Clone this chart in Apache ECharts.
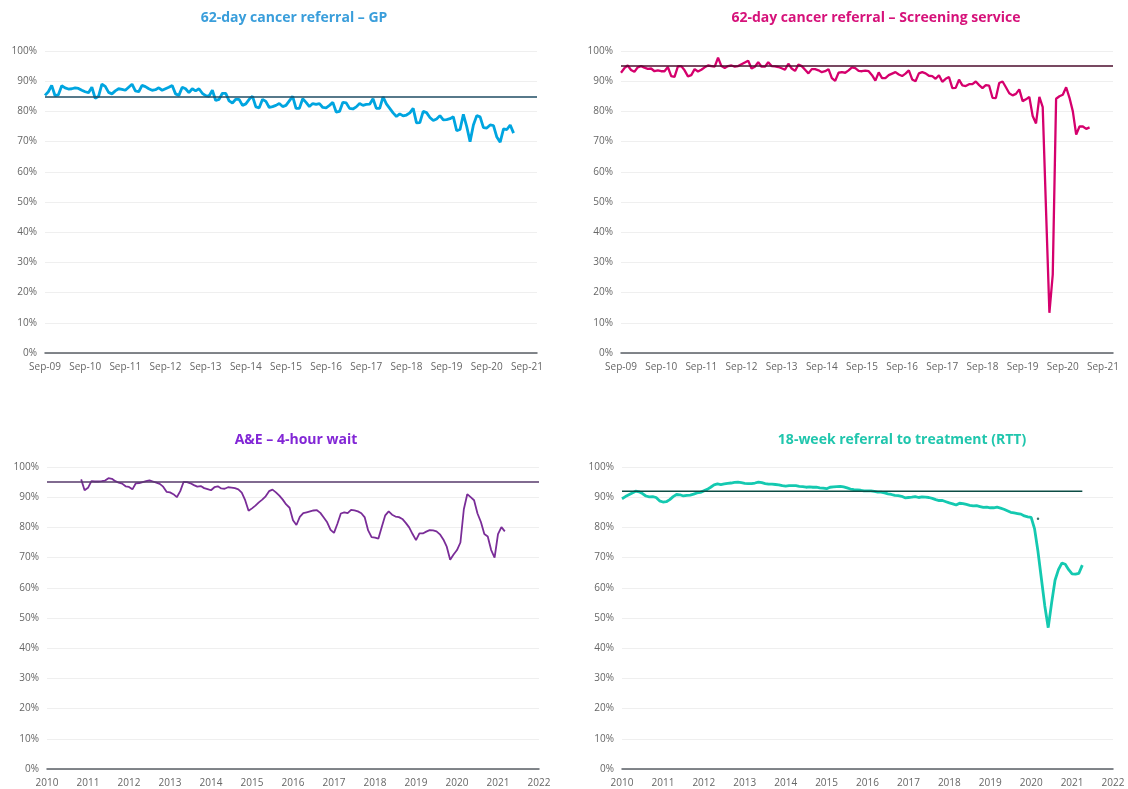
<!DOCTYPE html>
<html>
<head>
<meta charset="utf-8">
<script src="https://cdn.jsdelivr.net/npm/echarts@6/dist/echarts.min.js"></script>
<style>
  html, body { margin: 0; padding: 0; background: #fff; }
  #main { width: 1128px; height: 789px; }
</style>
</head>
<body>
<div id="main"></div>
<script>
// tick labels
var monthTicks = ['Sep-09','Sep-10','Sep-11','Sep-12','Sep-13','Sep-14','Sep-15','Sep-16','Sep-17','Sep-18','Sep-19','Sep-20','Sep-21'];
var yearTicks = ['2010','2011','2012','2013','2014','2015','2016','2017','2018','2019','2020','2021','2022'];

// titles and targets
var titles = ['62-day cancer referral – GP', '62-day cancer referral – Screening service', 'A&E – 4-hour wait', '18-week referral to treatment (RTT)'];
var targets = [85, 95, 95, 92];

// 62-day GP, monthly from Sep-09
var gp = [85.3,86.5,88.6,85.2,85.5,88.5,87.8,87.4,87.5,87.8,87.6,87,86.5,86.2,88,84.3,85,89,88.3,86.3,
  85.8,86.8,87.5,87.3,87,88,89,86.8,86.5,88.6,88.2,87.5,87,87.2,87.8,87,87.5,88,88.6,85.8,
  85.3,88,87.5,86.2,87.5,86.8,87.5,86,85.2,85,87,83.6,84,86,86,83.5,82.8,84,84,82,
  82.5,84,85,81.5,81.2,84,83.3,81.3,81.6,82,82.6,81.6,82,83.5,85,81,81,84.2,83,81.6,
  82.6,82.3,82.6,81.3,81.2,82,83,79.8,80,83,82.8,81,80.8,81.5,82.6,82,82.3,82.4,84.2,81,
  81,84.8,82.5,81,79.5,78.3,79.2,78.5,78.8,79.5,81,76.2,76.3,80,79.6,78,77,77.5,78.6,77.2,
  77.3,77.6,78.2,73.6,74,79,75,70,75.5,78.6,78.2,74.6,74.5,75.5,75.3,71.5,69.8,74.2,74,75.5,72.8];

// 62-day screening, monthly from Sep-09
var screening = [92.8,94.3,95.2,93.7,93.1,94.6,95,94.5,94.1,94.2,93.3,93.6,93.3,93.3,94.7,91.7,91.4,94.9,95,93.6,
  91.6,92,94,93.2,93.8,94.6,95.2,95,94.8,97.8,95,94.4,95,95.2,94.8,95,95.6,96.2,96.8,94.2,
  94.8,96.3,94.8,94.8,96.3,95,94.9,94.7,94.3,93.8,95.8,94.2,93.4,95.5,95,93.8,92.6,94,94,93.6,
  93,93.3,94,91,90.1,92.8,93,92.8,93.6,94.6,94.3,93.4,93.3,93.5,93.3,92,90.2,92.9,91,91,
  92,92.5,93,92.2,91.7,92.5,93.6,90.6,90,92.6,93,92.6,91.8,91.7,90.8,92,89.8,90.8,91.4,87.7,
  87.8,90.5,88.6,88.4,89,89,89.9,88.7,87.7,88.7,88.5,84.5,84.4,89.4,89.9,88,86,85.3,85.8,87.3,
  83.4,84,84.8,78.5,76,84.8,81.4,47,13.3,26,84.2,85,85.5,88,84.5,80,72.3,75,75,74.2,74.7];

// A&E 4-hour, monthly from Nov-10
var aeStart = 10;
var ae = [95.9,92.3,93.1,95.3,95.2,95.2,95.3,95.5,96.3,96.1,95.3,94.8,94.5,93.6,93.4,92.6,94.6,94.7,95,95.3,
  95.6,95.2,94.8,94.4,93.5,91.8,91.6,91,90,92,95.1,95,94.6,94,93.5,93.7,93,92.7,92.3,93.3,
  93.6,92.9,92.8,93.3,93.2,93,92.6,91.5,89,85.5,86.3,87.2,88.3,89.2,90.3,92,92.5,91.6,90.5,89.2,
  87.6,86.5,82.4,80.8,83.5,84.7,85,85.3,85.6,85.7,84.8,83.3,81.7,79.2,78.2,81.2,84.6,85,84.7,85.8,
  85.6,85.3,84.7,83.3,79,76.8,76.6,76.3,80.2,84,85.3,84.2,83.6,83.4,82.8,81.5,80,77.8,75.8,78,
  78,78.6,79.1,79,78.7,77.7,76,73.6,69.3,71,72.5,75,86,91,90,89,84.6,81.8,77.8,77,
  72.5,70,77.8,80.1,78.7];

// RTT 18-week, monthly from Jan-10
var rtt = [89.5,90.2,90.8,91.4,92,91.8,91.2,90.4,90.1,90.2,89.9,88.8,88.4,88.5,89.2,90.2,90.9,90.8,90.4,90.6,
  90.7,91,91.4,91.6,92.1,92.6,93.3,94.1,94.4,94.2,94.4,94.6,94.7,94.9,95,94.8,94.6,94.5,94.5,94.7,
  95,94.8,94.5,94.3,94.3,94.2,94.1,93.8,93.7,93.8,93.8,93.8,93.6,93.5,93.3,93.4,93.3,93.3,93.1,93,
  92.8,93.3,93.4,93.5,93.6,93.4,93.1,92.7,92.5,92.4,92.3,92.1,92.1,92.1,91.9,91.7,91.7,91.4,91.1,90.9,
  90.6,90.5,90.3,89.8,89.9,90,90.2,89.9,90.1,90,89.9,89.6,89.2,88.9,88.9,88.5,88.1,87.8,87.4,88,
  87.9,87.6,87.3,87.1,87.2,86.9,86.6,86.7,86.5,86.5,86.7,86.4,86,85.5,85,84.8,84.6,84.4,83.8,83.5,
  83.3,79.5,72,63,54,46.8,55,62.5,66,68.2,67.8,66,64.6,64.5,64.8,67.5];
var rttStray = [[122, 82.9]];

function pairs(arr, start) {
  return arr.map(function (v, i) { return [start + i, v]; });
}

var chartDom = document.getElementById('main');
var myChart = echarts.init(chartDom);

var font = '"Open Sans", "Noto Sans", sans-serif';
var titleColors = ['#3a9edb', '#d6127a', '#8226d6', '#20c6ad'];
var lineColors = ['#00a5e0', '#d5006d', '#7a2d98', '#14c9b0'];
var targetColors = ['#1f4c63', '#4b0c2c', '#573a6b', '#0c4c44'];

var grids = [
  { left: 45, top: 51, width: 492, height: 302 },
  { left: 621, top: 51, width: 492, height: 302 },
  { left: 47, top: 467, width: 492, height: 302 },
  { left: 622, top: 467, width: 491, height: 302 }
];
var titleX = [289, 871, 291, 897];
var titleY = [6, 6, 428, 428];

var xAxes = [], yAxes = [], titleOpts = [];
for (var k = 0; k < 4; k++) {
  var ticks = k < 2 ? monthTicks : yearTicks;
  xAxes.push({
    type: 'value', gridIndex: k, min: 0, max: k < 2 ? 147 : 144, interval: 12,
    axisLine: { show: true, lineStyle: { color: '#5a5f66', width: 1.5 } },
    axisTick: { show: false },
    splitLine: { show: false },
    axisLabel: {
      color: '#666', fontSize: 10, fontFamily: font, margin: 9, showMaxLabel: k >= 2,
      formatter: (function (t) { return function (v) { return v % 12 === 0 ? t[v / 12] : ''; }; })(ticks)
    }
  });
  yAxes.push({
    type: 'value', gridIndex: k, min: 0, max: 100, interval: 10,
    axisLine: { show: false }, axisTick: { show: false },
    splitLine: { lineStyle: { color: '#efefef', width: 1 } },
    axisLabel: { color: '#666', fontSize: 10, fontFamily: font, margin: 8, formatter: '{value}%' }
  });
  titleOpts.push({
    text: titles[k], left: titleX[k], top: titleY[k], textAlign: 'center',
    textStyle: { color: titleColors[k], fontSize: 14, fontWeight: 'bold', fontFamily: font }
  });
}

function lineSeries(k, data, width) {
  return {
    type: 'line', xAxisIndex: k, yAxisIndex: k, data: data, showSymbol: false,
    lineStyle: { color: lineColors[k], width: width }, itemStyle: { color: lineColors[k] },
    z: 3, silent: true
  };
}
function targetMark(k) {
  return {
    silent: true, symbol: 'none', label: { show: false },
    lineStyle: { color: targetColors[k], width: 1.5, type: 'solid' },
    data: [{ yAxis: targets[k] }]
  };
}

var s0 = lineSeries(0, pairs(gp, 0), 2.8); s0.markLine = targetMark(0);
var s1 = lineSeries(1, pairs(screening, 0), 2.3); s1.markLine = targetMark(1);
var s2 = lineSeries(2, pairs(ae, aeStart), 1.8); s2.markLine = targetMark(2);
var s3 = lineSeries(3, pairs(rtt, 0), 2.8);

var option = {
  animation: false,
  title: titleOpts,
  grid: grids,
  xAxis: xAxes,
  yAxis: yAxes,
  series: [
    s0, s1, s2, s3,
    {
      type: 'line', xAxisIndex: 3, yAxisIndex: 3, showSymbol: false, silent: true, z: 4,
      data: [[0, targets[3]], [rtt.length - 1, targets[3]]],
      lineStyle: { color: targetColors[3], width: 1.5 }
    },
    {
      type: 'scatter', xAxisIndex: 3, yAxisIndex: 3, data: rttStray, symbolSize: 2.5,
      itemStyle: { color: '#0c4c44' }, silent: true
    }
  ]
};

myChart.setOption(option);
</script>
</body>
</html>
